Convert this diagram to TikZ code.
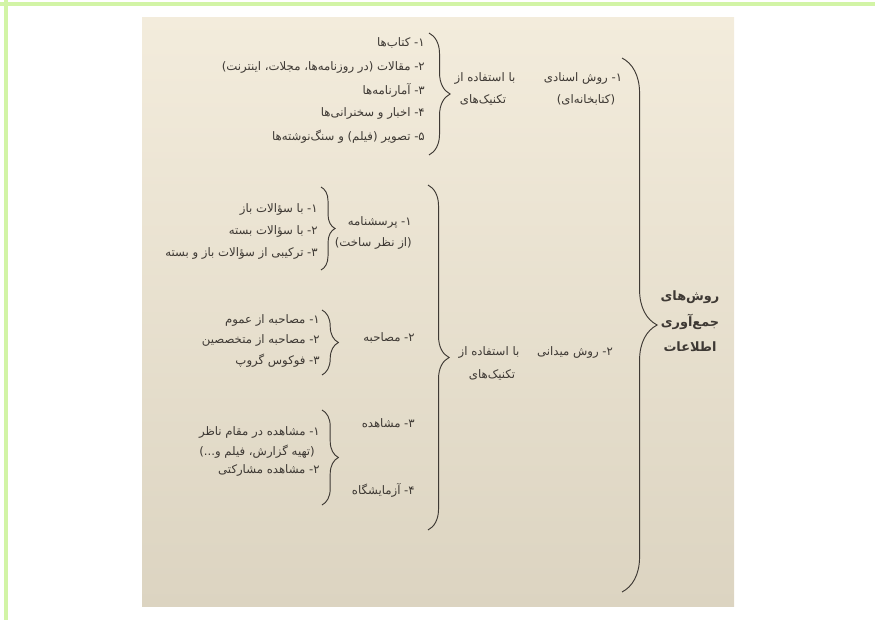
\documentclass[tikz,border=0pt]{standalone}
\usepackage{fontspec}
\usepackage{xcolor}
\usepackage{tikz}
\usetikzlibrary{decorations.pathreplacing, backgrounds}
\TeXXeTstate=1
\newfontfamily\fa[Script=Arabic]{DejaVu Sans}
\newcommand{\rtltxt}[1]{\beginR #1\endR}
\definecolor{ink}{HTML}{3E3934}
\definecolor{paper}{HTML}{F3ECDC}
\definecolor{paperdark}{HTML}{DCD4C1}
\definecolor{frame}{HTML}{D2F4A6}

\begin{document}
\begin{tikzpicture}[x=0.3mm, y=-0.3mm,
    item/.style={anchor=east, inner sep=0pt, text=ink, font=\fa\fontsize{10}{12}\selectfont},
    mid/.style={item, anchor=center},
    root/.style={mid, font=\fa\bfseries\fontsize{11}{13}\selectfont},
    brc/.style={decorate, decoration={brace, amplitude=#1}, draw=ink, thick}]
            \useasboundingbox (0,0) rectangle (875,620);
            % page frame and scanned sheet
            \draw[frame, line width=1mm] (0,4) -- (875,4);
            \draw[frame, line width=1mm] (6,0) -- (6,620);
            \shade[top color=paper, bottom color=paperdark] (142,17) rectangle (734,606);

            % sources (library method)
            \begin{scope}[every node/.style={item}]
                \node (s1) at (425,43) {\rtltxt{۱- کتاب‌ها}};
                \node (s2) at (425,67) {\rtltxt{۲- مقالات (در روزنامه‌ها، مجلات، اینترنت)}};
                \node (s3) at (425,90) {\rtltxt{۳- آمارنامه‌ها}};
                \node (s4) at (425,113) {\rtltxt{۴- اخبار و سخنرانی‌ها}};
                \node (s5) at (425,137) {\rtltxt{۵- تصویر (فیلم) و سنگ‌نوشته‌ها}};
            \end{scope}
            \node[mid] (t1a) at (485,78) {\rtltxt{با استفاده از}};
            \node[mid] (t1b) at (483,100) {\rtltxt{تکنیک‌های}};
            \node[mid] (m1a) at (583,78) {\rtltxt{۱- روش اسنادی}};
            \node[mid] (m1b) at (586,100) {\rtltxt{(کتابخانه‌ای)}};

            % field method
            \node[mid] (m2) at (575,352) {\rtltxt{۲- روش میدانی}};
            \node[mid] (t2a) at (489,352) {\rtltxt{با استفاده از}};
            \node[mid] (t2b) at (492,375) {\rtltxt{تکنیک‌های}};
            \begin{scope}[every node/.style={item}]
                \node (q) at (412,222) {\rtltxt{۱- پرسشنامه}};
                \node (qb) at (412,243) {\rtltxt{(از نظر ساخت)}};
                \node (iv) at (415,338) {\rtltxt{۲- مصاحبه}};
                \node (ob) at (415,423) {\rtltxt{۳- مشاهده}};
                \node (lab) at (415,490) {\rtltxt{۴- آزمایشگاه}};

                \node (q1) at (318,209) {\rtltxt{۱- با سؤالات باز}};
                \node (q2) at (318,231) {\rtltxt{۲- با سؤالات بسته}};
                \node (q3) at (318,253) {\rtltxt{۳- ترکیبی از سؤالات باز و بسته}};

                \node (iv1) at (320,320) {\rtltxt{۱- مصاحبه از عموم}};
                \node (iv2) at (320,340) {\rtltxt{۲- مصاحبه از متخصصین}};
                \node (iv3) at (320,361) {\rtltxt{۳- فوکوس گروپ}};

                \node (ob1) at (320,432) {\rtltxt{۱- مشاهده در مقام ناظر}};
                \node (ob2) at (315,452) {\rtltxt{(تهیه گزارش، فیلم و...)}};
                \node (ob3) at (320,470) {\rtltxt{۲- مشاهده مشارکتی}};
            \end{scope}

            % root
            \node[root] (r1) at (690,297) {\rtltxt{روش‌های}};
            \node[root] (r2) at (690,322) {\rtltxt{جمع‌آوری}};
            \node[root] (r3) at (690,347) {\rtltxt{اطلاعات}};

            % braces
            \coordinate (bt1) at (429,33);   \coordinate (bb1) at (429,155);
            \coordinate (bt2) at (428,185);  \coordinate (bb2) at (428,530);
            \coordinate (btq) at (321,187);  \coordinate (bbq) at (321,270);
            \coordinate (bti) at (322,310);  \coordinate (bbi) at (322,375);
            \coordinate (bto) at (322,410);  \coordinate (bbo) at (322,505);
            \coordinate (btr) at (622,58);   \coordinate (bbr) at (622,592);
            \draw[brc=18] (bt1) -- (bb1);
            \draw[brc=18] (bt2) -- (bb2);
            \draw[brc=12] (btq) -- (bbq);
            \draw[brc=14] (bti) -- (bbi);
            \draw[brc=14] (bto) -- (bbo);
            \draw[brc=30] (btr) -- (bbr);
\end{tikzpicture}
\end{document}
